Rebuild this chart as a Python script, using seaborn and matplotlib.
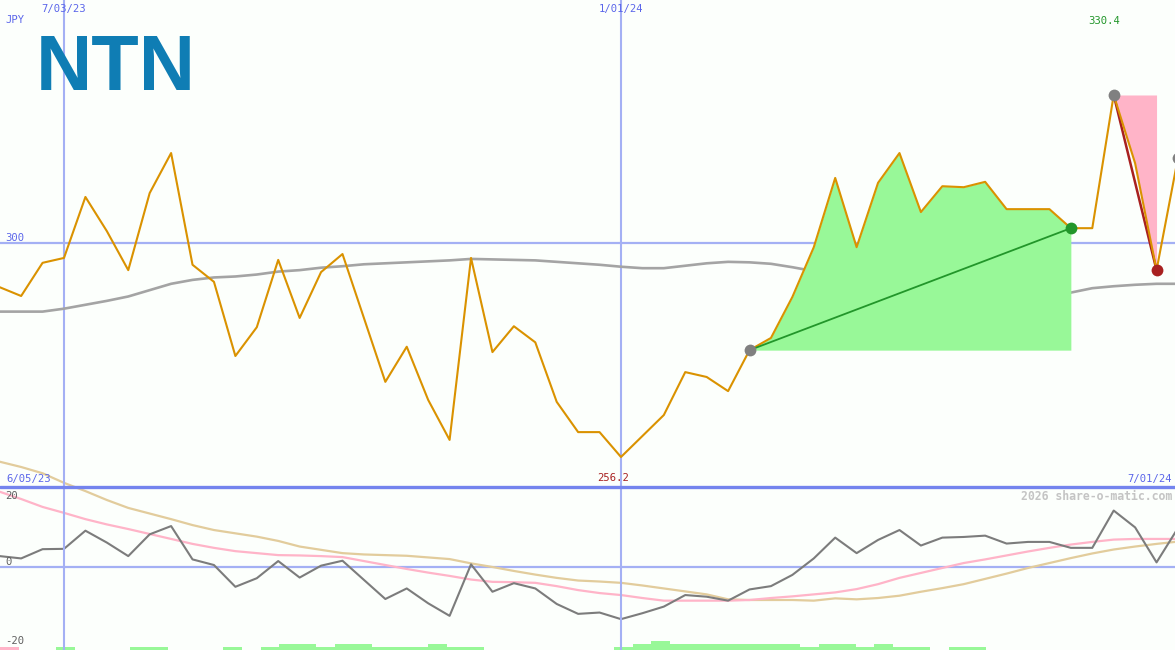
import numpy as np
import pandas as pd
import matplotlib
matplotlib.use("Agg")
import matplotlib.pyplot as plt
import seaborn as sns

# ---------------- data ----------------
start_date = "2023-06-12"
n_weeks = 56

price = [291.0, 289.2, 296.0, 297.0, 309.5, 302.5, 294.5, 310.3, 318.5, 295.6,
         292.1, 276.9, 282.8, 296.6, 284.7, 294.1, 297.8, 284.7, 271.6, 278.8,
         267.9, 259.7, 297.0, 277.7, 283.0, 279.7, 267.5, 261.3, 261.3, 256.2,
         260.5, 264.8, 273.6, 272.6, 269.7, 278.1, 280.6, 289.0, 299.2, 313.4,
         299.2, 312.4, 318.5, 306.4, 311.7, 311.5, 312.6, 307.0, 307.0, 307.0,
         303.1, 303.1, 330.4, 316.4, 294.5, 317.5]

ma_price = [286.0, 286.0, 286.0, 286.6, 287.4, 288.2, 289.1, 290.4, 291.7, 292.5,
            293.0, 293.2, 293.6, 294.2, 294.5, 295.0, 295.3, 295.7, 295.9, 296.1,
            296.3, 296.5, 296.8, 296.7, 296.6, 296.5, 296.2, 295.9, 295.6, 295.2,
            294.9, 294.9, 295.4, 295.9, 296.2, 296.1, 295.8, 295.1, 294.3, 293.7,
            293.1, 292.5, 292.6, 292.6, 292.3, 291.8, 291.2, 290.7, 290.2, 289.8,
            289.9, 290.8, 291.2, 291.5, 291.7, 291.7]

osc = [3.3, 2.6, 5.4, 5.5, 11.0, 7.4, 3.3, 9.9, 12.4, 2.3,
       0.6, -6.0, -3.4, 1.8, -3.2, 0.4, 1.9, -3.9, -9.7, -6.5,
       -11.0, -14.8, 0.8, -7.5, -4.9, -6.5, -11.2, -14.2, -13.8, -15.8,
       -14.0, -12.0, -8.5, -9.0, -10.2, -6.8, -5.8, -2.4, 2.6, 8.9,
       4.2, 8.2, 11.2, 6.5, 8.9, 9.1, 9.5, 7.1, 7.6, 7.6,
       5.8, 5.8, 17.1, 12.0, 1.4, 11.8]

osc_fast = [22.8, 20.6, 18.2, 16.4, 14.5, 12.9, 11.5, 10.0, 8.5, 7.0,
            5.8, 4.8, 4.2, 3.6, 3.5, 3.3, 3.0, 1.8, 0.6, -0.6,
            -1.7, -2.7, -3.8, -4.5, -4.6, -4.8, -5.8, -7.0, -7.9, -8.5,
            -9.4, -10.2, -10.2, -10.2, -10.2, -10.0, -9.4, -8.9, -8.3, -7.7,
            -6.7, -5.2, -3.3, -1.8, -0.3, 1.2, 2.3, 3.5, 4.7, 5.8,
            6.8, 7.6, 8.3, 8.5, 8.5, 8.5]

osc_slow = [31.9, 30.3, 28.4, 25.5, 23.0, 20.3, 17.9, 16.2, 14.5, 12.7,
            11.2, 10.2, 9.2, 7.9, 6.2, 5.2, 4.2, 3.8, 3.6, 3.4,
            2.9, 2.4, 1.1, 0.0, -1.2, -2.3, -3.3, -4.1, -4.4, -4.8,
            -5.6, -6.5, -7.4, -8.3, -9.8, -10.0, -10.0, -10.0, -10.2, -9.5,
            -9.8, -9.4, -8.7, -7.5, -6.4, -5.2, -3.6, -2.0, -0.3, 1.2,
            2.7, 4.1, 5.3, 6.2, 7.0, 7.7]

# bottom strip bars: slot index and level (+ green, - pink)
bar_slots = [-3, 0, 4, 5, 9, 11, 12, 13, 14, 15, 16, 17, 18, 19, 20, 21, 22,
             30, 31, 32, 33, 34, 35, 36, 37, 38, 39, 40, 41, 42, 43, 44, 45, 46, 48, 49]
bar_levels = [-1, 1, 1, 1, 1, 1, 2, 2, 1, 2, 2, 1, 1, 1, 2, 1, 1,
              1, 2, 3, 2, 2, 2, 2, 2, 2, 2, 1, 2, 2, 1, 2, 1, 1, 1, 1]

gain_start, gain_end = 35, 50      # green (rise) segment indices
drop_start, drop_end = 52, 54      # pink (drop) segment indices
last_idx = 55

grid_dates = ["2023-07-03", "2024-01-01"]
grid_labels = ["7/03/23", "1/01/24"]

# ---------------- styling ----------------
sns.set_style("white")
plt.rcParams["font.family"] = ["DejaVu Sans Mono", "DejaVu Sans"]

BG = "#fcfffc"
BLUE_GRID = "#a4b0f4"
BLUE_DARK = "#7484ee"
BLUE_TXT = "#5b66ea"
ORANGE = "#da9200"
GREEN_FILL = "#98f898"
GREEN = "#22962a"
RED = "#a82020"
PINK = "#ffb4c8"
TAN = "#e2cc9c"

dates = pd.date_range(start_date, periods=n_weeks, freq="7D")
df = pd.DataFrame({"date": dates, "price": price, "ma": ma_price,
                   "osc": osc, "fast": osc_fast, "slow": osc_slow})

W, H = 1175, 650
fig = plt.figure(figsize=(W / 100, H / 100), dpi=100, facecolor=BG)

ref = pd.Timestamp("2023-07-03")
x_left = ref - pd.Timedelta(days=20.91)
x_right = ref + pd.Timedelta(days=363.03)

# lower oscillator axes (drawn first, underneath)
ax2 = fig.add_axes([0, 0, 1, 1])
ax2.set_facecolor(BG)
ax2.set_xlim(x_left, x_right)
ax2.set_ylim(-25.15, 171.8)
ax2.axhline(0, color=BLUE_GRID, lw=1.6, zorder=1)
sns.lineplot(data=df, x="date", y="slow", ax=ax2, color=TAN, lw=1.6, zorder=2)
sns.lineplot(data=df, x="date", y="fast", ax=ax2, color=PINK, lw=1.6, zorder=2)
sns.lineplot(data=df, x="date", y="osc", ax=ax2, color="#7c7c7c", lw=1.5, zorder=3)
ax2.axis("off")

# bottom strip bars
ax3 = fig.add_axes([0, 0, 1, 1])
ax3.patch.set_alpha(0)
ax3.set_xlim(-3.01, 60.16)
ax3.set_ylim(0, H / 3)
bar_cols = [GREEN_FILL if v > 0 else PINK for v in bar_levels]
ax3.bar(bar_slots, [abs(v) for v in bar_levels], width=1.0, align="edge",
        color=bar_cols, linewidth=0)
ax3.axis("off")

# main price axes
ax = fig.add_axes([0, 0, 1, 1])
ax.patch.set_alpha(0)
ax.set_xlim(x_left, x_right)
ax.set_ylim(216.64, 349.87)

for d in grid_dates:
    ax.axvline(pd.Timestamp(d), color=BLUE_GRID, lw=1.5, zorder=1)
ax.axhline(300, color=BLUE_GRID, lw=1.6, zorder=1)
ax.axhline(250, color=BLUE_DARK, lw=2.4, zorder=1)

sns.lineplot(data=df, x="date", y="ma", ax=ax, color="#a4a4a4", lw=1.9, zorder=2)

g = df.iloc[gain_start:gain_end + 1]
ax.fill_between(g["date"], price[gain_start], g["price"], color=GREEN_FILL, lw=0, zorder=2)
p = df.iloc[drop_start:drop_end + 1]
ax.fill_between(p["date"], p["price"], price[drop_start], color=PINK, lw=0, zorder=2)

ax.plot([dates[drop_start], dates[drop_end]], [price[drop_start], price[drop_end]],
        color=RED, lw=1.8, zorder=3)
sns.lineplot(data=df, x="date", y="price", ax=ax, color=ORANGE, lw=1.5, zorder=4)
ax.plot([dates[gain_start], dates[gain_end]], [price[gain_start], price[gain_end]],
        color=GREEN, lw=1.3, zorder=5)

for i, c in [(gain_start, "#808080"), (drop_start, "#808080"), (last_idx, "#808080"),
             (gain_end, GREEN), (drop_end, RED)]:
    ax.plot(dates[i], price[i], "o", ms=8.5, color=c, mec="none", zorder=6)
ax.axis("off")

# ---------------- texts ----------------
def ftext(x, y, s, **kw):
    fig.text(x / W, 1 - y / H, s, **kw)

fs = 7.6
for d, lab in zip(grid_dates, grid_labels):
    xd = (pd.Timestamp(d) - x_left) / (x_right - x_left) * W
    ftext(xd, 9, lab, color=BLUE_TXT, fontsize=fs, ha="center", va="center")
ftext(5, 20, "JPY", color=BLUE_TXT, fontsize=fs, ha="left", va="center")
ftext(5, 238, "300", color=BLUE_TXT, fontsize=fs, ha="left", va="center")
ftext(1104, 21, f"{max(price):.1f}", color=GREEN, fontsize=fs, ha="center", va="center")
ftext(613, 478, f"{min(price):.1f}", color=RED, fontsize=fs, ha="center", va="center")
ftext(6, 479, "6/05/23", color=BLUE_TXT, fontsize=fs, ha="left", va="center")
ftext(1172, 479, "7/01/24", color=BLUE_TXT, fontsize=fs, ha="right", va="center")
ftext(1172, 496, "2026 share-o-matic.com", color="#c4c4c4", fontsize=8.3,
      fontweight="bold", ha="right", va="center")
ftext(5, 496, "20", color="#606060", fontsize=fs, ha="left", va="center")
ftext(5, 562, "0", color="#606060", fontsize=fs, ha="left", va="center")
ftext(5, 641, "-20", color="#606060", fontsize=fs, ha="left", va="center")

# logo
fig.text(36 / W, 1 - 90 / H, "NTN", color="#0f7db4", fontsize=56, fontweight="bold",
         family=["Liberation Sans", "DejaVu Sans"], ha="left", va="baseline")

fig.savefig("out.png", dpi=100, facecolor=BG)
